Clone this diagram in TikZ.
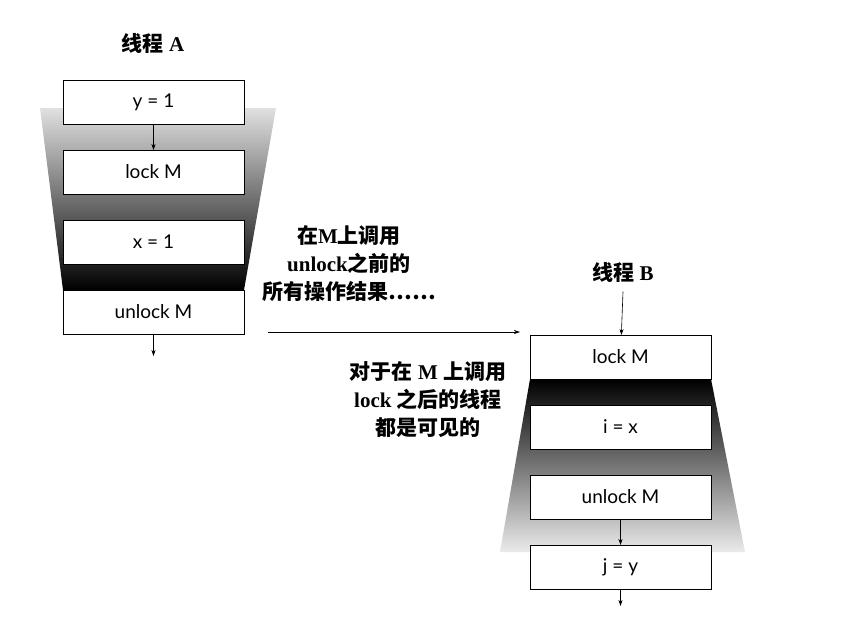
\documentclass[tikz,border=0pt]{standalone}
\usepackage{fontspec}
\usetikzlibrary{arrows.meta, positioning, backgrounds}
\setmainfont{Liberation Serif}
\newfontfamily\cjk{Noto Sans CJK SC}
\newfontfamily\boxfont{Lato}
\newcommand{\zh}[1]{{\cjk\bfseries #1}}

\begin{document}
\begin{tikzpicture}[
    x=1pt, y=1pt,
    node distance=26pt,
    box/.style={rectangle, draw=black, fill=white, line width=0.7pt, minimum width=181pt, minimum height=44pt, inner sep=0pt, outer sep=0pt, font=\boxfont\fontsize{19}{22}\selectfont},
    title/.style={font=\fontsize{21}{24}\selectfont\bfseries},
    note/.style={align=center, font=\fontsize{21}{28}\selectfont\bfseries},
    arrow/.style={-{Stealth[length=6pt, width=4pt]}, line width=0.6pt}
  ]
  \useasboundingbox (0,0) rectangle (842,-630);

  \node[title] (titlea) at (153,-43) {\zh{线程} A};
  \node[box] (ya) at (153.5,-102) {y = 1};
  \node[box, below=of ya] (locka) {lock M};
  \node[box, below=of locka] (xa) {x = 1};
  \node[box, below=of xa] (unlocka) {unlock M};
  \coordinate (enda) at (153.5,-356);

  \node[title] (titleb) at (623,-272) {\zh{线程} B};
  \node[box] (lockb) at (620.5,-357) {lock M};
  \node[box, below=of lockb] (ib) {i = x};
  \node[box, below=of ib] (unlockb) {unlock M};
  \node[box, below=of unlockb] (jb) {j = y};
  \coordinate (endb) at (620.5,-606);

  \begin{scope}[on background layer]
    \shade[top color=black!12, middle color=black!60, bottom color=black]
      (40,-108) -- (276,-108) -- (unlocka.north east) -- (unlocka.north west) -- cycle;
    \shade[top color=black, middle color=black!60, bottom color=black!8]
      (lockb.south west) -- (lockb.south east) -- (745,-552) -- (500,-552) -- cycle;
  \end{scope}

  \node[note] (before) at (349,-264) {\zh{在}M\zh{上调用}\\unlock\zh{之前的}\\\zh{所有操作结果……}};
  \node[note] (after) at (428,-400) {\zh{对于在} M \zh{上调用}\\lock \zh{之后的线程}\\\zh{都是可见的}};
  \coordinate (sendfrom) at (268,-332);
  \coordinate (sendto) at (520,-332);

  \draw[arrow] (ya) -- (locka);
  \draw[arrow] (unlocka) -- (enda);
  \draw[arrow] (sendfrom) -- (sendto);
  \draw[arrow] ([yshift=-6pt]titleb.south) -- (lockb);
  \draw[arrow] (unlockb) -- (jb);
  \draw[arrow] (jb) -- (endb);

\end{tikzpicture}
\end{document}
